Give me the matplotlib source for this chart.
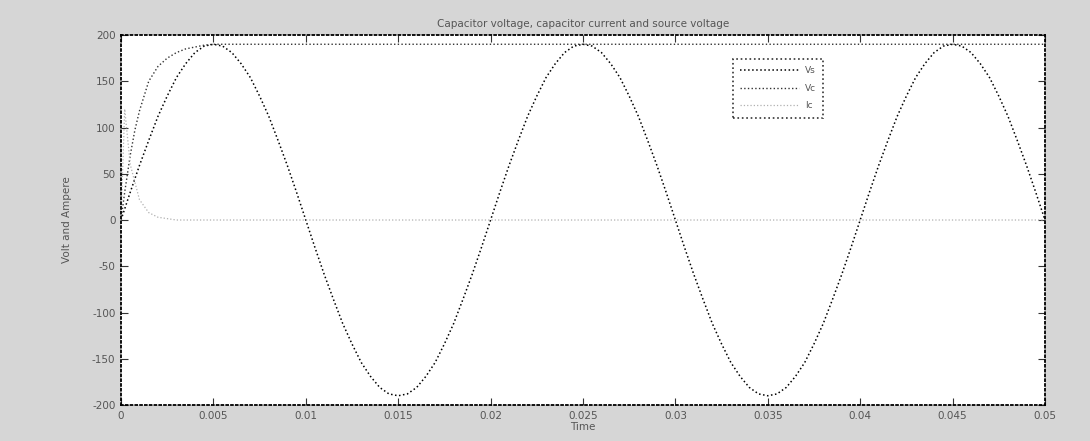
import numpy as np
import matplotlib
matplotlib.use("Agg")
import matplotlib.pyplot as plt

plt.rcParams["axes.unicode_minus"] = False

# source voltage, read every 0.0005 s
t_vs = np.linspace(0, 0.05, 101)
vs = [0, 30, 59, 86, 112, 134, 154, 169, 181, 188, 190, 188, 181, 169, 154, 134, 112, 86, 59, 30,
      0, -30, -59, -86, -112, -134, -154, -169, -181, -188, -190, -188, -181, -169, -154, -134, -112, -86, -59, -30,
      0, 30, 59, 86, 112, 134, 154, 169, 181, 188, 190, 188, 181, 169, 154, 134, 112, 86, 59, 30,
      0, -30, -59, -86, -112, -134, -154, -169, -181, -188, -190, -188, -181, -169, -154, -134, -112, -86, -59, -30,
      0, 30, 59, 86, 112, 134, 154, 169, 181, 188, 190, 188, 181, 169, 154, 134, 112, 86, 59, 30,
      0]

# capacitor voltage
t_vc = [0, 0.0002, 0.0005, 0.00075, 0.001, 0.0015, 0.002, 0.0025, 0.003, 0.0035, 0.004, 0.0045, 0.005, 0.05]
vc = [0, 30, 70, 97, 118, 150, 166, 175, 181, 185, 187, 189, 190, 190]

# capacitor current
t_ic = [0, 0.0002, 0.0005, 0.001, 0.0015, 0.002, 0.003, 0.05]
ic = [0, 120, 60, 22, 8, 3, 0, 0]

xticks = [0, 0.005, 0.01, 0.015, 0.02, 0.025, 0.03, 0.035, 0.04, 0.045, 0.05]
xlabels = ["0", "0.005", "0.01", "0.015", "0.02", "0.025", "0.03", "0.035", "0.04", "0.045", "0.05"]
yticks = [-200, -150, -100, -50, 0, 50, 100, 150, 200]

txt = "#555555"
fig = plt.figure(figsize=(10.9, 4.41), dpi=100, facecolor="#d6d6d6")
ax = fig.add_axes([0.111, 0.0816, 0.8477, 0.839])
ax.set_facecolor("white")

ax.plot(t_vs, vs, color="black", linestyle=":", linewidth=1.1, label="Vs")
ax.plot(t_vc, vc, color="#333333", linestyle=":", linewidth=1.0, label="Vc")
ax.plot(t_ic, ic, color="#b0b0b0", linestyle=":", linewidth=0.9, label="Ic")

ax.set_xlim(0, 0.05)
ax.set_ylim(-200, 200)
ax.set_xticks(xticks)
ax.set_xticklabels(xlabels)
ax.set_yticks(yticks)
ax.tick_params(direction="in", length=5, top=True, right=True, labelsize=7.5,
               labelcolor=txt, color="#333333", pad=4)
for s in ax.spines.values():
    s.set_linestyle(":")
    s.set_linewidth(1.3)
    s.set_color("black")

ax.set_title("Capacitor voltage, capacitor current and source voltage", fontsize=7.5, color=txt, pad=6)
ax.set_xlabel("Time", fontsize=7.5, color=txt, labelpad=1)
ax.set_ylabel("Volt and Ampere", fontsize=7.5, color=txt, labelpad=14)

leg = ax.legend(loc="upper left", bbox_to_anchor=(0.662, 0.935), borderaxespad=0, fontsize=6.5,
                handlelength=6.5, handletextpad=0.7, frameon=True, fancybox=False,
                borderpad=0.8, labelspacing=0.95)
leg.get_frame().set_edgecolor("black")
leg.get_frame().set_linestyle(":")
leg.get_frame().set_linewidth(1.2)
for t in leg.get_texts():
    t.set_color(txt)

fig.savefig("out.png", dpi=100, facecolor=fig.get_facecolor())
